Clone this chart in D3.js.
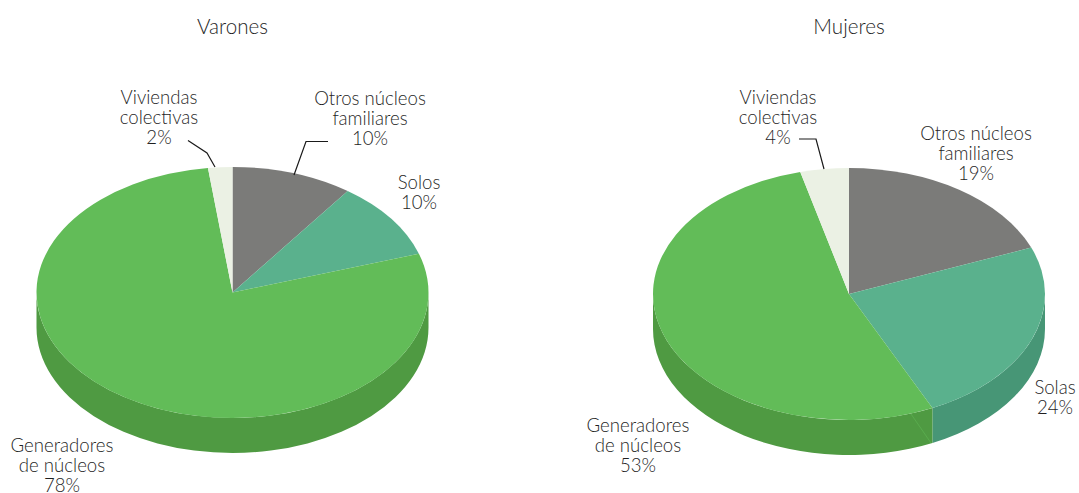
<!DOCTYPE html>
<html>
<head>
<meta charset="utf-8">
<script src="https://cdn.jsdelivr.net/npm/d3@7"></script>
<style>
    html, body { margin: 0; padding: 0; background: #fff; }
    svg { display: block; }
    text { font-family: Lato, sans-serif; font-weight: 300; font-size: 18.6px; fill: #1f1f1f; text-anchor: middle; }
    text.title { font-size: 20.6px; }
</style>
</head>
<body>
<svg id="chart" width="1079" height="493"></svg>
<script>
const categories = ["Otros núcleos familiares", "Solos", "Generadores de núcleos", "Viviendas colectivas"]
const valuesVarones = [10, 10, 78, 2]
const valuesMujeres = [19, 24, 53, 4]

const labelsVarones = [["Otros núcleos", "familiares", "10%"], ["Solos", "10%"], ["Generadores", "de núcleos", "78%"], ["Viviendas", "colectivas", "2%"]]
const labelsMujeres = [["Otros núcleos", "familiares", "19%"], ["Solas", "24%"], ["Generadores", "de núcleos", "53%"], ["Viviendas", "colectivas", "4%"]]

const topColors = ["#7b7b79", "#5ab18d", "#62bc58", "#ebf1e4"]
const sideColors = ["#5f5f5d", "#479676", "#4f9a42", "#c4cabd"]

const RX = 196, DEPTH = 35, LINE_HEIGHT = 20

const svg = d3.select("#chart")
const pie = d3.pie().sort(null).value(d => d)

function drawPie(conf) {
    const g = svg.append("g").attr("transform", "translate(" + conf.cx + "," + conf.cy + ")")
    const arcs = pie(conf.values)
    const point = (a, dy) => [RX * Math.sin(a), -conf.ry * Math.cos(a) + dy]

    // side wall, only the front half of the ellipse shows
    arcs.forEach((d, i) => {
        const a0 = Math.max(d.startAngle, Math.PI / 2)
        const a1 = Math.min(d.endAngle, Math.PI * 1.5)
        if (a1 <= a0) return
        const p0 = point(a0, 0), p1 = point(a1, 0), q0 = point(a0, DEPTH), q1 = point(a1, DEPTH)
        g.append("path")
            .attr("d", "M" + p0 + "A" + RX + "," + conf.ry + " 0 0 1 " + p1 +
                "L" + q1 + "A" + RX + "," + conf.ry + " 0 0 0 " + q0 + "Z")
            .attr("fill", sideColors[i])
    })

    // top face: a circle arc flattened into the ellipse
    const arc = d3.arc().innerRadius(0).outerRadius(RX)
    const top = g.append("g").attr("transform", "scale(1," + (conf.ry / RX) + ")")
    top.selectAll("path")
        .data(arcs)
        .enter()
        .append("path")
        .attr("d", arc)
        .attr("fill", (d, i) => topColors[i])

    svg.append("text")
        .attr("class", "title")
        .attr("x", conf.titleX)
        .attr("y", 34)
        .text(conf.title)

    conf.labels.forEach((lines, i) => {
        const label = svg.append("text")
        lines.forEach((line, k) => {
            label.append("tspan")
                .attr("x", conf.labelPos[i][0])
                .attr("y", conf.labelPos[i][1] + k * LINE_HEIGHT)
                .text(line)
        })
    })

    conf.leaders.forEach(pts => {
        svg.append("path")
            .attr("d", d3.line()(pts))
            .attr("fill", "none")
            .attr("stroke", "#1a1a1a")
            .attr("stroke-width", 1.2)
    })
}

drawPie({
    title: "Varones", titleX: 232.5, cx: 232.5, cy: 292.5, ry: 125.5, values: valuesVarones, labels: labelsVarones,
    labelPos: [[370, 105], [419, 189], [62, 452], [159, 104]],
    leaders: [[[328, 141.5], [306, 141.5], [294, 175]], [[188, 140.5], [207, 153], [215, 167]]]
})

drawPie({
    title: "Mujeres", titleX: 849, cx: 849, cy: 294, ry: 126, values: valuesMujeres, labels: labelsMujeres,
    labelPos: [[976, 140], [1055, 394], [638, 432], [778, 104]],
    leaders: [[[799, 139], [816, 139], [824, 169]]]
})

// faint seam on the side wall of the Mujeres pie
svg.append("path")
    .attr("d", d3.line()([[911, 414], [931, 443]]))
    .attr("stroke", "#62bc58")
    .attr("stroke-width", 0.5)
    .attr("fill", "none")
</script>
</body>
</html>
